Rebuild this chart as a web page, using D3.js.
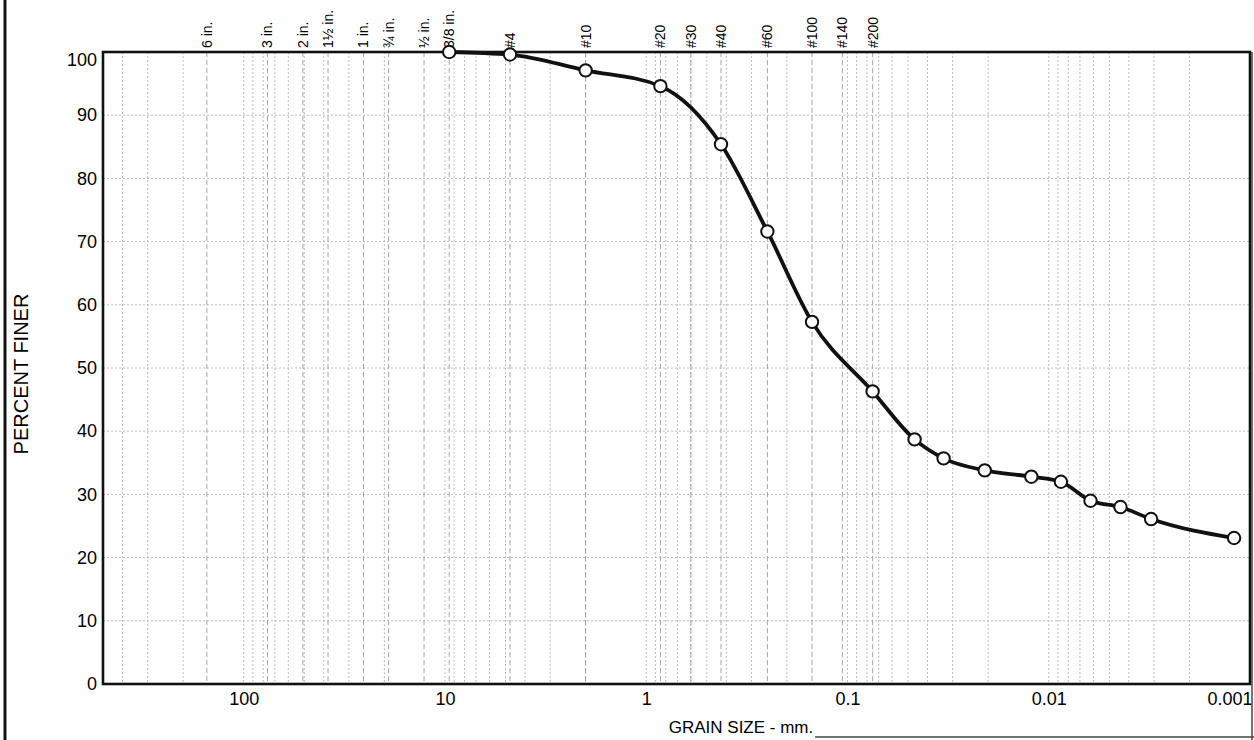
<!DOCTYPE html>
<html>
<head>
<meta charset="utf-8">
<script src="https://cdn.jsdelivr.net/npm/d3@7"></script>
<style>
  html, body { margin: 0; padding: 0; background: #fff; }
  svg { display: block; font-family: Arial, "Liberation Sans", sans-serif; }
</style>
</head>
<body>
<svg id="chart" width="1254" height="740"></svg>
<script>
// ---- data ----
const sieveLabels = ["6 in.", "3 in.", "2 in.", "1½ in.", "1 in.", "¾ in.", "½ in.", "3/8 in.", "#4", "#10", "#20", "#30", "#40", "#60", "#100", "#140", "#200"];
const sieveSizes = [152.4, 76.2, 50.8, 38.1, 25.4, 19.05, 12.7, 9.525, 4.75, 2.0, 0.85, 0.6, 0.425, 0.25, 0.15, 0.106, 0.075];
const grainSize = [9.525, 4.75, 2.0, 0.85, 0.425, 0.25, 0.15, 0.075, 0.0464, 0.0333, 0.0208, 0.0122, 0.0087, 0.0062, 0.0044, 0.0031, 0.0012];
const percentFiner = [100, 99.6, 97.1, 94.6, 85.4, 71.6, 57.3, 46.3, 38.7, 35.7, 33.8, 32.8, 32.0, 29.0, 28.0, 26.1, 23.1];
const xTickValues = [100, 10, 1, 0.1, 0.01, 0.001];
const xTickLabels = ["100", "10", "1", "0.1", "0.01", "0.001"];
const yTickValues = [0, 10, 20, 30, 40, 50, 60, 70, 80, 90, 100];

(function () {
// ---- layout ----
const pL = 103, pR = 1250, pT = 52, pB = 684;
const svg = d3.select("#chart");
const x = d3.scaleLog().domain([500, 0.001]).range([pL, pR]);
const y = d3.scaleLinear().domain([0, 100]).range([pB, pT]);

// minor gridlines: 1..9 x 10^n
const gridVals = [];
for (let e = -3; e <= 2; e++) {
  for (let k = 1; k <= 9; k++) {
    const v = k * Math.pow(10, e);
    if (v <= 500 && v >= 0.001) gridVals.push(v);
  }
}

const grid = svg.append("g");
grid.selectAll("line.v").data(gridVals).enter().append("line")
  .attr("x1", d => x(d)).attr("x2", d => x(d))
  .attr("y1", pT).attr("y2", pB)
  .attr("stroke", "#b4b4b4").attr("stroke-width", 0.9)
  .attr("stroke-dasharray", "2,2");

grid.selectAll("line.h").data(yTickValues.filter(d => d > 0 && d < 100)).enter().append("line")
  .attr("x1", pL).attr("x2", pR)
  .attr("y1", d => y(d)).attr("y2", d => y(d))
  .attr("stroke", "#b4b4b4").attr("stroke-width", 0.9)
  .attr("stroke-dasharray", "2,2");

// sieve lines
grid.selectAll("line.s").data(sieveSizes).enter().append("line")
  .attr("x1", d => x(d)).attr("x2", d => x(d))
  .attr("y1", pT).attr("y2", pB)
  .attr("stroke", "#9a9a9a").attr("stroke-width", 0.9)
  .attr("stroke-dasharray", "5,3");

// sieve labels on top
svg.append("g").selectAll("text").data(sieveSizes).enter().append("text")
  .attr("transform", d => `translate(${x(d) + 5},${pT - 4}) rotate(-90)`)
  .attr("text-anchor", "start")
  .attr("font-size", 14)
  .attr("fill", "#000")
  .text((d, i) => sieveLabels[i]);

// plot frame
svg.append("rect")
  .attr("x", pL).attr("y", pT)
  .attr("width", pR - pL).attr("height", pB - pT)
  .attr("fill", "none").attr("stroke", "#111").attr("stroke-width", 2.6);

// x axis
const xAxis = d3.axisBottom(x).tickValues(xTickValues)
  .tickFormat((d, i) => xTickLabels[i]).tickSize(0).tickPadding(8);
const gx = svg.append("g").attr("transform", `translate(0,${pB})`).call(xAxis);
gx.select(".domain").remove();
gx.selectAll("text").attr("font-size", 18).attr("fill", "#000")
  .attr("font-family", "Arial, 'Liberation Sans', sans-serif")
  .attr("text-anchor", (d, i) => i === xTickValues.length - 1 ? "end" : "middle")
  .attr("dx", (d, i) => i === xTickValues.length - 1 ? 2 : 0);

// y axis
const yAxis = d3.axisLeft(y).tickValues(yTickValues).tickSize(0).tickPadding(6);
const gy = svg.append("g").attr("transform", `translate(${pL},0)`).call(yAxis);
gy.select(".domain").remove();
gy.selectAll("text").attr("font-size", 18).attr("fill", "#000")
  .attr("font-family", "Arial, 'Liberation Sans', sans-serif")
  .attr("dy", d => d === 100 ? "0.75em" : "0.32em");

// axis titles
svg.append("text")
  .attr("transform", "translate(28,374) rotate(-90)")
  .attr("text-anchor", "middle").attr("font-size", 20).attr("fill", "#000")
  .text("PERCENT FINER");
svg.append("text")
  .attr("x", 741).attr("y", 733)
  .attr("text-anchor", "middle").attr("font-size", 17).attr("fill", "#000")
  .text("GRAIN SIZE - mm.");

// page frame fragments
svg.append("line").attr("x1", 5).attr("x2", 5).attr("y1", 0).attr("y2", 740)
  .attr("stroke", "#111").attr("stroke-width", 3);
svg.append("line").attr("x1", 815).attr("x2", 1254).attr("y1", 737).attr("y2", 737)
  .attr("stroke", "#444").attr("stroke-width", 1.5);
svg.append("line").attr("x1", 1252).attr("x2", 1252).attr("y1", pT).attr("y2", 740)
  .attr("stroke", "#444").attr("stroke-width", 1.5);

// curve
const pts = grainSize.map((g, i) => [x(g), y(percentFiner[i])]);
svg.append("path")
  .attr("d", d3.line().curve(d3.curveMonotoneX)(pts))
  .attr("fill", "none").attr("stroke", "#111").attr("stroke-width", 3.8)
  .attr("stroke-linejoin", "round");

svg.append("g").selectAll("circle").data(grainSize).enter().append("circle")
  .attr("cx", d => x(d))
  .attr("cy", (d, i) => y(percentFiner[i]))
  .attr("r", 6.2)
  .attr("fill", "#fff").attr("stroke", "#111").attr("stroke-width", 2);
})();
</script>
</body>
</html>
